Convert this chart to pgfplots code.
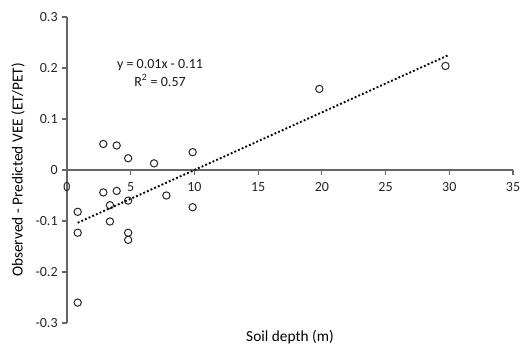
\documentclass[border=0pt]{standalone}
\usepackage{fontspec}
\setmainfont{Carlito}
\usepackage{pgfplots}
\pgfplotsset{compat=1.18}
\begin{document}
\begin{tikzpicture}
\begin{axis}[name=ax, scale only axis, width=334.5pt, height=229.5pt,
  xmin=0, xmax=35, ymin=-0.3, ymax=0.3,
  axis y line=left, axis x line=middle,
  hide obscured x ticks=false,
  axis line style={-, draw=black!60, line width=0.8pt},
  xtick={0,5,...,35}, ytick={-0.3,-0.2,-0.1,0,0.1,0.2,0.3},
  tick align=outside, major tick length=3.5pt,
  tick style={draw=black!60, line width=0.8pt},
  /pgf/number format/assume math mode=true,
  yticklabel style={/pgf/number format/fixed, /pgf/number format/precision=1, font=\fontsize{10.5}{12}\selectfont, text=black!85},
  xticklabel style={font=\fontsize{10.5}{12}\selectfont, text=black!85, yshift=-2pt},
  xlabel={Soil depth (m)}, ylabel={Observed - Predicted VEE (ET/PET)},
  xlabel style={at={([yshift=-10.5pt]rel axis cs:0.5,0)}, anchor=center, font=\fontsize{11.5}{13}\selectfont},
  ylabel style={at={([xshift=-36.75pt]rel axis cs:0,0.5)}, anchor=center, font=\fontsize{11.5}{13}\selectfont},
  clip=false,
]
\addplot[only marks, mark=o, mark size=2.75pt, mark options={draw=black!85, line width=0.75pt}] coordinates {
(2.85,0.051) (3.9,0.048) (4.8,0.023) (6.83,0.013) (9.86,0.035) (19.8,0.159) (29.7,0.204)
(2.85,-0.044) (3.9,-0.041) (3.37,-0.069) (4.8,-0.060) (7.8,-0.050) (9.86,-0.073)
(0.84,-0.082) (3.37,-0.101) (0.84,-0.123) (4.8,-0.123) (4.8,-0.137) (0.84,-0.260)
};
\addplot[black, line width=1.4pt, dash pattern=on 1.4pt off 1.6pt] coordinates {(0.84,-0.1035) (30,0.226)};
\node[align=center, font=\fontsize{10.5}{13}\selectfont, text=black!90] at (axis cs:7.3,0.19) {y = 0.01x - 0.11\\R\textsuperscript{2} = 0.57};
\end{axis}
\pgfresetboundingbox
\path ([shift={(-50.25pt,-18pt)}]ax.south west) rectangle ([shift={(5.25pt,12.75pt)}]ax.north east);
\end{tikzpicture}
\end{document}
